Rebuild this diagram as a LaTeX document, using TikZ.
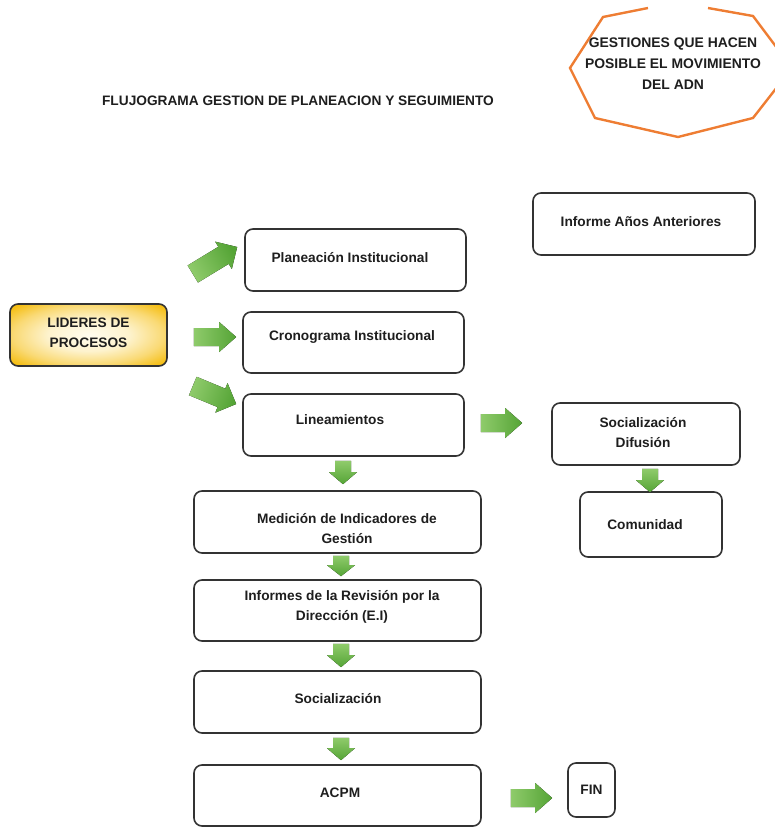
\documentclass[tikz,border=0pt]{standalone}
\usepackage{fontspec}
\setmainfont{Liberation Sans}
\usetikzlibrary{calc}

\definecolor{boxline}{HTML}{333333}
\definecolor{inktext}{HTML}{1E1E1E}
\definecolor{arrowlight}{HTML}{8FCB6B}
\definecolor{arrowdark}{HTML}{55A436}
\definecolor{goldedge}{HTML}{F5BD10}
\definecolor{goldcore}{HTML}{FFFCEE}
\definecolor{octline}{HTML}{EE7D33}

% soft glow: light centre, gold rim
\pgfdeclareradialshading{goldglow}{\pgfpoint{0bp}{0bp}}{%
  color(0bp)=(goldcore); color(13bp)=(goldcore!85!goldedge);
  color(24bp)=(goldcore!45!goldedge); color(33bp)=(goldedge);
  color(50bp)=(goldedge)}

\tikzset{
  flowbox/.style={draw=boxline, line width=1.6pt, rounded corners=8pt,
    fill=white, inner sep=0pt},
  leadbox/.style={flowbox, shading=goldglow},
  boxtext/.style={text=inktext, align=center, inner sep=0pt,
    font=\fontsize{13.7}{20}\selectfont\bfseries},
  titletext/.style={boxtext, font=\fontsize{13.7}{15}\selectfont\bfseries},
}

% green block arrow: #1 tail, #2 tip, #3 half shaft, #4 half head,
% #5 head length, #6 direction angle (for the shading)
\newcommand\blockarrow[6]{%
  \coordinate (bh) at ($(#2)!#5pt!(#1)$);
  \fill[bottom color=arrowlight, top color=arrowdark, shading angle=#6-90]
    ($(#1)!#3pt!90:(#2)$) -- ($(bh)!#3pt!-90:(#1)$) --
    ($(bh)!#4pt!-90:(#1)$) -- (#2) -- ($(bh)!#4pt!90:(#1)$) --
    ($(bh)!#3pt!90:(#1)$) -- ($(#1)!#3pt!-90:(#2)$) -- cycle;}

\begin{document}
\begin{tikzpicture}[x=1pt, y=-1pt]
\useasboundingbox (0,0) rectangle (774,827);

% title
\node[titletext] (title) at (298,101)
  {FLUJOGRAMA GESTION DE PLANEACION Y SEGUIMIENTO};

% orange octagon note, its top running out of the page
\draw[octline, line width=2.4pt, line join=miter]
  (648,8) -- (603,17) -- (570,68) -- (595,118) -- (678,137)
  -- (753,118) -- (792,68) -- (753,16) -- (708,8);
\node[boxtext, font=\fontsize{13.9}{21}\selectfont\bfseries] (note) at (673,64)
  {GESTIONES QUE HACEN\\POSIBLE EL MOVIMIENTO\\DEL ADN};

% boxes
\node[flowbox, minimum width=222pt, minimum height=62pt] (inf)  at (644,224) {};
\node[flowbox, minimum width=221pt, minimum height=62pt] (plan) at (355.5,260) {};
\node[leadbox, minimum width=157pt, minimum height=62pt] (lid)  at (88.5,335) {};
\node[flowbox, minimum width=221pt, minimum height=61pt] (cron) at (353.5,342.5) {};
\node[flowbox, minimum width=221pt, minimum height=62pt] (lin)  at (353.5,425) {};
\node[flowbox, minimum width=188pt, minimum height=62pt] (soc1) at (646,434) {};
\node[flowbox, minimum width=287pt, minimum height=62pt] (med)  at (337.5,522) {};
\node[flowbox, minimum width=142pt, minimum height=65pt] (com)  at (651,524.5) {};
\node[flowbox, minimum width=287pt, minimum height=61pt] (infm) at (337.5,610.5) {};
\node[flowbox, minimum width=287pt, minimum height=62pt] (soc2) at (337.5,702) {};
\node[flowbox, minimum width=287pt, minimum height=61pt] (acpm) at (337.5,795.5) {};
\node[flowbox, minimum width=47pt,  minimum height=54pt] (fin)  at (591.5,790) {};

% box texts
\node[boxtext] (tinf)  at ([xshift=-3pt,yshift=-29pt]inf.north) {Informe Años Anteriores};
\node[boxtext] (tplan) at ([xshift=-5.5pt,yshift=-29pt]plan.north) {Planeación Institucional};
\node[boxtext] (tlid)  at ([yshift=2.5pt]lid.center) {LIDERES DE\\PROCESOS};
\node[boxtext] (tcron) at ([xshift=-1.5pt,yshift=-26pt]cron.north) {Cronograma Institucional};
\node[boxtext] (tlin)  at ([xshift=-13.5pt,yshift=-26pt]lin.north) {Lineamientos};
\node[boxtext] (tsoc1) at ([xshift=-3pt,yshift=-30pt]soc1.north) {Socialización\\Difusión};
\node[boxtext] (tmed)  at ([xshift=9.5pt,yshift=-38pt]med.north) {Medición de Indicadores de\\Gestión};
\node[boxtext] (tcom)  at ([xshift=-6pt,yshift=-33pt]com.north) {Comunidad};
\node[boxtext] (tinfm) at ([xshift=4.5pt,yshift=-28pt]infm.north) {Informes de la Revisión por la\\Dirección (E.I)};
\node[boxtext] (tsoc2) at ([xshift=0.5pt,yshift=-28pt]soc2.north) {Socialización};
\node[boxtext] (tacpm) at ([xshift=2.5pt,yshift=-29pt]acpm.north) {ACPM};
\node[boxtext] (tfin)  at (fin.center) {FIN};

% arrow ends
\coordinate (a1s) at ([xshift=25pt,yshift=61pt]lid.east);
\coordinate (a1e) at ([xshift=-7pt,yshift=13pt]plan.west);
\coordinate (a2s) at ([xshift=26pt,yshift=-2pt]lid.east);
\coordinate (a2e) at ([xshift=-6pt,yshift=5.5pt]cron.west);
\coordinate (a3s) at ([xshift=25pt,yshift=-51pt]lid.east);
\coordinate (a3e) at ([xshift=-6pt,yshift=21pt]lin.west);
\coordinate (a4s) at ([xshift=16pt,yshift=2pt]lin.east);
\coordinate (a4e) at ([xshift=-29pt,yshift=11pt]soc1.west);
\coordinate (a5s) at ([xshift=-10.5pt,yshift=-4pt]lin.south);
\coordinate (a5e) at ([xshift=5.5pt,yshift=6pt]med.north);
\coordinate (a6s) at ([xshift=4pt,yshift=-3pt]soc1.south);
\coordinate (a6e) at ([xshift=-1pt,yshift=-1pt]com.north);
\coordinate (a7s) at ([xshift=3.5pt,yshift=-2pt]med.south);
\coordinate (a7e) at ([xshift=3.5pt,yshift=3pt]infm.north);
\coordinate (a8s) at ([xshift=3.5pt,yshift=-2pt]infm.south);
\coordinate (a8e) at ([xshift=3.5pt,yshift=3pt]soc2.north);
\coordinate (a9s) at ([xshift=3.5pt,yshift=-4pt]soc2.south);
\coordinate (a9e) at ([xshift=3.5pt,yshift=4pt]acpm.north);
\coordinate (a10s) at ([xshift=29pt,yshift=-2.5pt]acpm.east);
\coordinate (a10e) at ([xshift=-15pt,yshift=-8pt]fin.west);

% green block arrows
\blockarrow{a1s}{a1e}{10}{16}{16}{30}
\blockarrow{a2s}{a2e}{9}{15}{17}{0}
\blockarrow{a3s}{a3e}{10}{16}{16}{-20}
\blockarrow{a4s}{a4e}{9}{15}{17}{0}
\blockarrow{a5s}{a5e}{8}{14}{12}{-90}
\blockarrow{a6s}{a6e}{8}{14}{12}{-90}
\blockarrow{a7s}{a7e}{8}{14}{11}{-90}
\blockarrow{a8s}{a8e}{8}{14}{12}{-90}
\blockarrow{a9s}{a9e}{8}{14}{12}{-90}
\blockarrow{a10s}{a10e}{9}{15}{17}{0}
\end{tikzpicture}
\end{document}
